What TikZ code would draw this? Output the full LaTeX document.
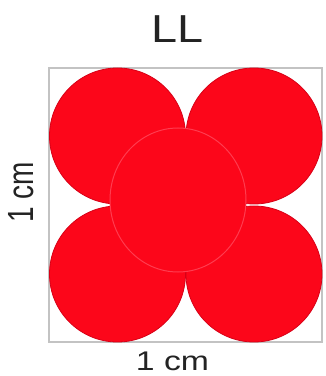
\documentclass[tikz,border=0pt]{standalone}
\usepackage{fontspec}
\setmainfont{Liberation Sans}
\usetikzlibrary{shapes.geometric}
\definecolor{discred}{RGB}{252,6,26}
\definecolor{discedge}{RGB}{215,0,22}
\definecolor{discglow}{RGB}{255,60,80}
\definecolor{txtgray}{RGB}{35,35,35}
\definecolor{boxgray}{RGB}{195,195,195}
\tikzset{
  disc/.style={circle, fill=discred, draw=discedge, line width=0.8pt, minimum size=136pt, inner sep=0pt},
  topdisc/.style={ellipse, fill=discred, draw=discglow, line width=1pt, minimum width=136pt, minimum height=144pt, inner sep=0pt},
  lbl/.style={text=txtgray, inner sep=0pt}
}
\begin{document}
\begin{tikzpicture}[x=1pt,y=1pt]
\useasboundingbox (0,0) rectangle (325,376);
\draw[boxgray, line width=1.5pt] (49,34) rectangle (322,308);
\node[disc] (tl) at (117.5,240) {};
\node[disc] (tr) at (254,240) {};
\node[disc] (bl) at (117.5,102) {};
\node[disc] (br) at (254,102) {};
\node[topdisc] (c) at (178,176) {};
\node[lbl, font=\fontsize{39}{39}\selectfont] (title) at (178,347) {\scalebox{1.2}[1]{LL}};
\node[lbl, font=\fontsize{27}{27}\selectfont] (xl) at (172.5,15) {\scalebox{1.25}[1]{1 cm}};
\node[lbl, font=\fontsize{28}{28}\selectfont, rotate=90] (yl) at (21,183.5) {\scalebox{1}[1.3]{1 cm}};
\end{tikzpicture}
\end{document}
